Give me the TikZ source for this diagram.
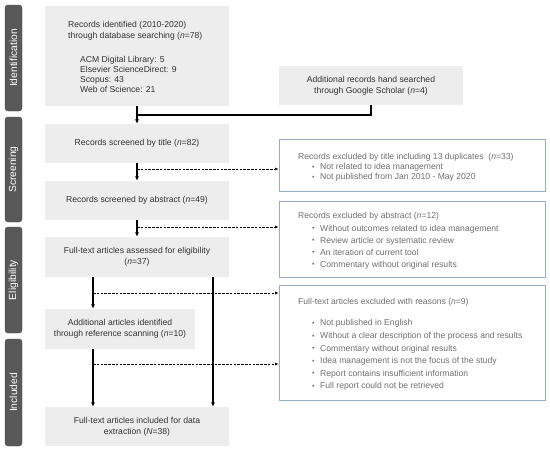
\documentclass[tikz,border=0pt]{standalone}
\usepackage{fontspec}
\setmainfont{Liberation Sans}
\usetikzlibrary{arrows.meta}
\definecolor{boxfill}{HTML}{EDEDED}
\definecolor{sidefill}{HTML}{595959}
\definecolor{exborder}{HTML}{95AECB}
\definecolor{maintext}{HTML}{333333}
\definecolor{extext}{HTML}{707070}
\newcommand{\bitem}[1]{\hspace*{14pt}\makebox[8pt][l]{\raisebox{0.5pt}{\scriptsize•}}#1}
\tikzset{
  graybox/.style={fill=boxfill, draw=none, minimum width=184pt, minimum height=39pt, inner sep=0pt, align=center, text=maintext, font=\fontsize{8.6}{11}\selectfont},
  sidebox/.style={fill=sidefill, draw=sidefill!80!black, line width=0.4pt, rounded corners=3pt, minimum width=17pt, inner sep=0pt},
  sidetext/.style={text=white, rotate=90, font=\fontsize{10.3}{12}\selectfont, inner sep=0pt},
  exbox/.style={draw=exborder, line width=0.9pt, fill=white, inner sep=0pt},
  extxt/.style={anchor=north west, inner sep=0pt, align=left, text=extext},
  solidarrow/.style={line width=1.2pt, -{Latex[length=4.5pt,width=4pt]}},
  solidline/.style={line width=1.2pt},
  dasharrow/.style={line width=0.7pt, dash pattern=on 2.5pt off 1.3pt, -{Latex[length=3.5pt,width=3pt]}}
}
\begin{document}
\begin{tikzpicture}[x=1pt,y=-1pt]
\useasboundingbox (0,0) rectangle (550,451);

% side labels
\node[sidebox, minimum height=106pt] (sid) at (13.5,58) {};
\node[sidetext] (sidt) at (sid.center) {Identification};
\node[sidebox, minimum height=105pt] (sscr) at (13.5,169.5) {};
\node[sidetext] (sscrt) at (sscr.center) {Screening};
\node[sidebox, minimum height=106pt] (sel) at (13.5,280) {};
\node[sidetext] (selt) at (sel.center) {Eligibility};
\node[sidebox, minimum height=107pt] (sinc) at (13.5,392.5) {};
\node[sidetext] (sinct) at (sinc.center) {Included};

% main boxes
\node[graybox, minimum height=100pt] (b1) at (137,56) {};
\node[anchor=north west, inner sep=0pt, align=left, text=maintext, font=\fontsize{8.6}{10.3}\selectfont] (b1t) at (68,21.5)
  {Records identified (2010-2020)\\through database searching (\textit{n}=78)};
\node[anchor=north west, inner sep=0pt, align=left, text=maintext, font=\fontsize{8.6}{10}\selectfont] (b1l) at (80,56.5)
  {ACM Digital Library: 5\\Elsevier ScienceDirect: 9\\Scopus: 43\\Web of Science: 21};

\node[graybox] (b2) at (371,85.5) {Additional records hand searched\\through Google Scholar (\textit{n}=4)};
\node[graybox] (b3) at (137,143.5) {Records screened by title (\textit{n}=82)};
\node[graybox] (b4) at (137,200.5) {Records screened by abstract (\textit{n}=49)};
\node[graybox, minimum height=40pt] (b5) at (137,257) {Full-text articles assessed for eligibility\\(\textit{n}=37)};
\node[graybox, minimum width=150pt, minimum height=40pt] (b6) at (120,329) {Additional articles identified\\through reference scanning (\textit{n}=10)};
\node[graybox] (b7) at (137,426.5) {Full-text articles included for data\\extraction (\textit{N}=38)};

% exclusion boxes
\node[exbox, minimum width=266pt, minimum height=52pt] (e1) at (412,165) {};
\node[extxt, font=\fontsize{8.6}{10}\selectfont] (e1t) at (298,153.5)
  {Records excluded by title including 13 duplicates\ \ (\textit{n}=33)\\
   \bitem{Not related to idea management}\\
   \bitem{Not published from Jan 2010 - May 2020}};
\node[exbox, minimum width=266pt, minimum height=76pt] (e2) at (412,239) {};
\node[extxt, font=\fontsize{8.6}{12.1}\selectfont] (e2t) at (298,212.5)
  {Records excluded by abstract (\textit{n}=12)\\
   \bitem{Without outcomes related to idea management}\\
   \bitem{Review article or systematic review}\\
   \bitem{An iteration of current tool}\\
   \bitem{Commentary without original results}};
\node[exbox, minimum width=266pt, minimum height=115pt] (e3) at (412,342.5) {};
\node[extxt, font=\fontsize{8.6}{12.6}\selectfont] (e3t) at (298,298.5)
  {Full-text articles excluded with reasons (\textit{n}=9)\\[8.4pt]
   \bitem{Not published in English}\\
   \bitem{Without a clear description of the process and results}\\
   \bitem{Commentary without original results}\\
   \bitem{Idea management is not the focus of the study}\\
   \bitem{Report contains insufficient information}\\
   \bitem{Full report could not be retrieved}};

% connectors
\coordinate (j1) at (137,115);
\coordinate (xl) at (93,0);
\coordinate (xr) at (213,0);
\coordinate (d1) at (137,169);
\coordinate (d2) at (137,227);
\coordinate (d3) at (93,293);
\coordinate (d4) at (93,364);

\draw[solidarrow] (b1.south) -- (b3.north);
\draw[solidline] (b2.south) |- (j1);
\draw[solidarrow] (b3.south) -- (b4.north);
\draw[solidarrow] (b4.south) -- (b5.north);
\draw[solidarrow] (b5.south -| xl) -- (b6.north -| xl);
\draw[solidarrow] (b5.south -| xr) -- (b7.north -| xr);
\draw[solidarrow] (b6.south -| xl) -- (b7.north -| xl);

\draw[dasharrow] (d1) -- (d1 -| e1.west);
\draw[dasharrow] (d2) -- (d2 -| e2.west);
\draw[dasharrow] (d3) -- (d3 -| e3.west);
\draw[dasharrow] (d4) -- (d4 -| e3.west);
\end{tikzpicture}
\end{document}
